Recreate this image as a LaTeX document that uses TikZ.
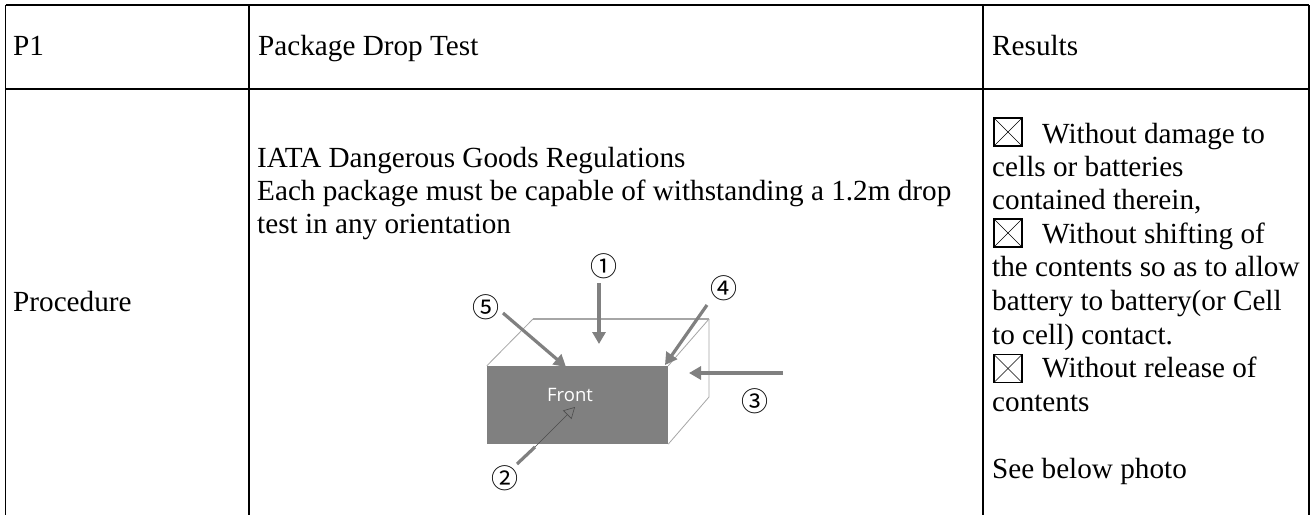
\documentclass[tikz,border=0pt]{standalone}
\usepackage{fontspec}
\setmainfont{Liberation Serif}
\newfontfamily\cnum{Noto Sans CJK KR}
\newfontfamily\hdr{Open Sans}
\usetikzlibrary{arrows.meta}
\tikzset{
  x=1pt,y=-1pt,
  grid/.style={line width=1.8pt,black},
  txt/.style={anchor=base west,inner sep=0pt,font=\fontsize{29.2}{33}\selectfont},
  cbox/.style={draw=black,line width=1.1pt,minimum size=28pt,inner sep=0pt,path picture={\draw[line width=0.6pt] (path picture bounding box.north west)--(path picture bounding box.south east);\draw[line width=0.6pt] (path picture bounding box.north east)--(path picture bounding box.south west);}},
  num/.style={inner sep=0pt,font=\cnum\fontsize{27}{27}\selectfont},
  edge/.style={draw=black!35,line width=0.8pt},
  garrow/.style={draw=black!50,line width=3.2pt,-{Triangle[length=12pt,width=13pt]}},
}
\begin{document}
\begin{tikzpicture}
\useasboundingbox (0,0) rectangle (1314,515);
\fill[white] (0,0) rectangle (1314,515);
\coordinate (tl) at (5.5,5);\coordinate (tr) at (1309,5);
\coordinate (ml) at (5.5,89);\coordinate (mr) at (1309,89);
\coordinate (a1) at (249,5);\coordinate (a2) at (249,515);
\coordinate (b1) at (983,5);\coordinate (b2) at (983,515);
\coordinate (bl) at (5.5,515);\coordinate (br) at (1309,515);
\draw[grid] (tl)--(tr) (ml)--(mr) (tl)--(bl) (a1)--(a2) (b1)--(b2) (tr)--(br);
\node[txt] (p1) at (13,55) {P1};
\node[txt] (pdt) at (258,55) {Package Drop Test};
\node[txt] (res) at (992,55) {Results};
\node[txt] (proc) at (13,311) {Procedure};
\node[txt] (t1) at (257,167) {IATA Dangerous Goods Regulations};
\node[txt] (t2) at (257,200) {Each package must be capable of withstanding a 1.2m drop};
\node[txt] (t3) at (257,233) {test in any orientation};
\node[cbox] (c1) at (1008,132) {};
\node[txt] (r1) at (1042,143) {Without damage to};
\node[txt] (r2) at (992,176) {cells or batteries};
\node[txt] (r3) at (992,209) {contained therein,};
\node[cbox] (c2) at (1008,233) {};
\node[txt] (r4) at (1042,243) {Without shifting of};
\node[txt] (r5) at (992,276) {the contents so as to allow};
\node[txt] (r6) at (992,310) {battery to battery(or Cell};
\node[txt] (r7) at (992,344) {to cell) contact.};
\node[cbox] (c3) at (1008,368.5) {};
\node[txt] (r8) at (1042,377) {Without release of};
\node[txt] (r9) at (992,411) {contents};
\node[txt] (r10) at (992,478) {See below photo};
% box
\coordinate (bk1) at (533,319);\coordinate (bk2) at (709,319);\coordinate (bk3) at (709,397);
\node[fill=black!50,inner sep=0pt,minimum width=181pt,minimum height=78pt] (front) at (577.5,405) {};
\draw[edge] (front.north west)--(bk1);
\draw[edge,line width=1.3pt] (bk1)--(bk2);
\draw[edge] (bk2)--(bk3)--(front.south east);
\draw[edge] (front.north east)--(bk2);
\node[inner sep=0pt,text=white,font=\hdr\fontsize{18.5}{18.5}\selectfont] (ft) at (570,395) {Front};
\node[num] (n1) at (604,266) {①};
\node[num] (n2) at (505,478) {②};
\node[num] (n3) at (755,401) {③};
\node[num] (n4) at (724,288) {④};
\node[num] (n5) at (486,307) {⑤};
\coordinate (s1) at (599,283);\coordinate (e1) at (599,344);
\coordinate (s3) at (783,373);\coordinate (e3) at (689,373);
\coordinate (s4) at (707,305);\coordinate (e4) at (665,365);
\coordinate (s5) at (503,313);\coordinate (e5) at (566,367);
\coordinate (s2) at (517,464);\coordinate (m2) at (535,447);\coordinate (e2) at (575,407);
\draw[garrow] (s1)--(e1);
\draw[garrow] (s3)--(e3);
\draw[garrow] (s4)--(e4);
\draw[garrow] (s5)--(e5);
\draw[draw=black!50,line width=3.2pt] (s2)--(m2);
\draw[draw=black!70,line width=0.6pt,-{Triangle[open,length=11pt,width=12pt]}] (m2)--(e2);
\end{tikzpicture}
\end{document}
